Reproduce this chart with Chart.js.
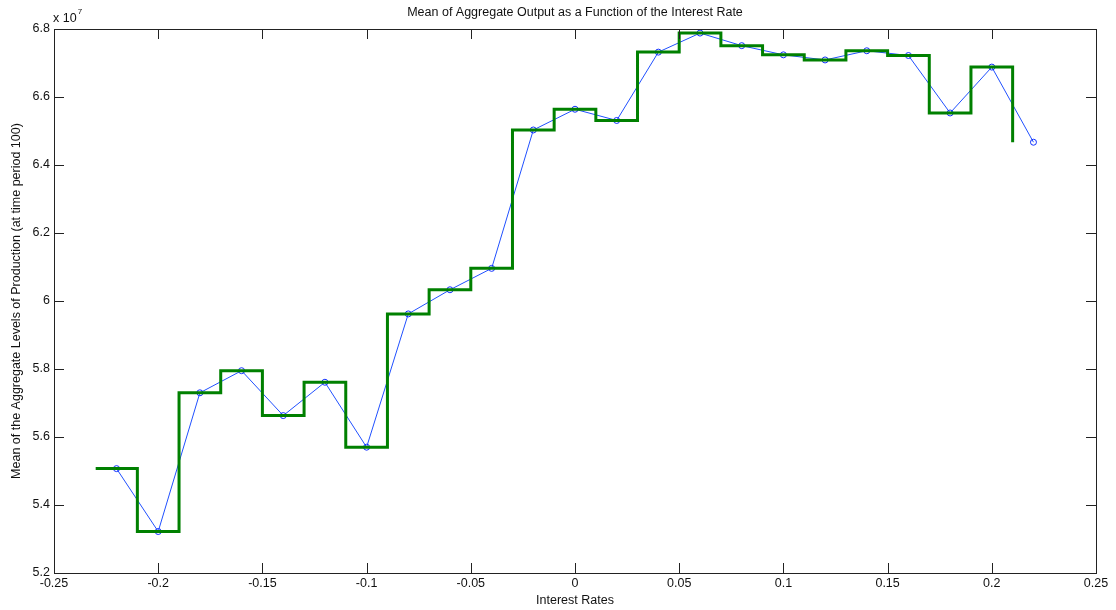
<!DOCTYPE html>
<html>
<head>
<meta charset="utf-8">
<script src="https://cdn.jsdelivr.net/npm/chart.js@4"></script>
<style>
  html, body { margin: 0; padding: 0; background: #fff; }
  #wrap { width: 1116px; height: 610px; }
</style>
</head>
<body>
<div id="wrap"><canvas id="myChart" width="1116" height="610"></canvas></div>
<script>
// Interest rates tested (x values of the blue line)
const rates = [-0.22, -0.20, -0.18, -0.16, -0.14, -0.12, -0.10, -0.08, -0.06, -0.04, -0.02, 0,
               0.02, 0.04, 0.06, 0.08, 0.10, 0.12, 0.14, 0.16, 0.18, 0.20, 0.22];

// Mean aggregate output at time period 100
const meanOutput = [5.507e7, 5.322e7, 5.730e7, 5.795e7, 5.663e7, 5.761e7, 5.570e7, 5.962e7,
                    6.033e7, 6.096e7, 6.503e7, 6.564e7, 6.531e7, 6.732e7, 6.788e7, 6.751e7,
                    6.724e7, 6.709e7, 6.736e7, 6.722e7, 6.553e7, 6.688e7, 6.467e7];

// Left edges of the stair steps (green line)
const stepEdges = [-0.23, -0.21, -0.19, -0.17, -0.15, -0.13, -0.11, -0.09, -0.07, -0.05, -0.03, -0.01,
                   0.01, 0.03, 0.05, 0.07, 0.09, 0.11, 0.13, 0.15, 0.17, 0.19, 0.21];

// Axis ticks
const xTicks = [-0.25, -0.2, -0.15, -0.1, -0.05, 0, 0.05, 0.1, 0.15, 0.2, 0.25];
const yTicks = [5.2e7, 5.4e7, 5.6e7, 5.8e7, 6.0e7, 6.2e7, 6.4e7, 6.6e7, 6.8e7];

const titleText = 'Mean of Aggregate Output as a Function of the Interest Rate';
const xLabel = 'Interest Rates';
const yLabel = 'Mean of the Aggregate Levels of Production (at time period 100)';

const FONT = '"Liberation Sans", Arial, sans-serif';
const FONT_SIZE = 12.5;
const AXIS_COLOR = '#222';

// box, inward ticks and the text around the plot
const frame = {
    id: 'frame',
    afterDraw(chart) {
        const c = chart.ctx;
        const a = chart.chartArea;
        const xs = chart.scales.x;
        const ys = chart.scales.y;
        c.save();
        c.strokeStyle = AXIS_COLOR;
        c.lineWidth = 1;
        c.strokeRect(Math.round(a.left) + 0.5, Math.round(a.top) + 0.5,
                     Math.round(a.right - a.left), Math.round(a.bottom - a.top));
        c.beginPath();
        xTicks.forEach(v => {
            const px = Math.round(xs.getPixelForValue(v)) + 0.5;
            c.moveTo(px, a.bottom); c.lineTo(px, a.bottom - 10);
            c.moveTo(px, a.top); c.lineTo(px, a.top + 10);
        });
        yTicks.forEach(v => {
            const py = Math.round(ys.getPixelForValue(v)) + 0.5;
            c.moveTo(a.left, py); c.lineTo(a.left + 10, py);
            c.moveTo(a.right, py); c.lineTo(a.right - 10, py);
        });
        c.stroke();

        c.fillStyle = '#111';
        c.font = FONT_SIZE + 'px ' + FONT;
        c.textAlign = 'center';
        c.textBaseline = 'middle';
        const midX = (a.left + a.right) / 2;
        c.fillText(titleText, midX, 13);
        c.fillText(xLabel, midX, 601);

        c.save();
        c.translate(17, (a.top + a.bottom) / 2);
        c.rotate(-Math.PI / 2);
        c.fillText(yLabel, 0, 0);
        c.restore();

        c.textAlign = 'left';
        c.fillText('x 10', a.left - 1, 19);
        const w = c.measureText('x 10').width;
        c.font = '8px ' + FONT;
        c.fillText('7', a.left + w, 12);
        c.restore();
    }
};

const ctx = document.getElementById('myChart').getContext('2d');

const myChart = new Chart(ctx, {
    type: 'scatter',
    data: {
        datasets: [{
            label: 'Stairs',
            data: stepEdges.map((x, i) => ({ x: x, y: meanOutput[i] })),
            showLine: true,
            stepped: 'before',
            borderColor: '#008000',
            borderWidth: 3,
            pointRadius: 0,
            fill: false,
            order: 0
        }, {
            label: 'Mean output',
            data: rates.map((x, i) => ({ x: x, y: meanOutput[i] })),
            showLine: true,
            borderColor: '#2050ff',
            borderWidth: 1,
            pointStyle: 'circle',
            pointRadius: 3,
            pointBorderWidth: 1,
            pointBorderColor: '#1030ff',
            pointBackgroundColor: 'rgba(0,0,0,0)',
            fill: false,
            order: 1
        }]
    },
    options: {
        responsive: false,
        animation: false,
        layout: { padding: { left: 0, top: 29, right: 20, bottom: 0 } },
        plugins: {
            legend: { display: false },
            title: { display: false },
            tooltip: { enabled: false }
        },
        scales: {
            x: {
                type: 'linear',
                min: -0.25,
                max: 0.25,
                afterFit(scale) { scale.height = 37; },
                afterBuildTicks(scale) { scale.ticks = xTicks.map(v => ({ value: v })); },
                grid: { display: false, drawTicks: false },
                border: { display: false },
                ticks: {
                    padding: 3,
                    color: '#111',
                    font: { family: FONT, size: FONT_SIZE },
                    maxRotation: 0,
                    callback: v => String(Math.round(v * 100) / 100)
                }
            },
            y: {
                type: 'linear',
                min: 5.2e7,
                max: 6.8e7,
                afterFit(scale) { scale.width = 54; },
                afterBuildTicks(scale) { scale.ticks = yTicks.map(v => ({ value: v })); },
                grid: { display: false, drawTicks: false },
                border: { display: false },
                ticks: {
                    padding: 4,
                    color: '#111',
                    font: { family: FONT, size: FONT_SIZE },
                    callback: v => String(Math.round(v / 1e6) / 10)
                }
            }
        }
    },
    plugins: [frame]
});
</script>
</body>
</html>
